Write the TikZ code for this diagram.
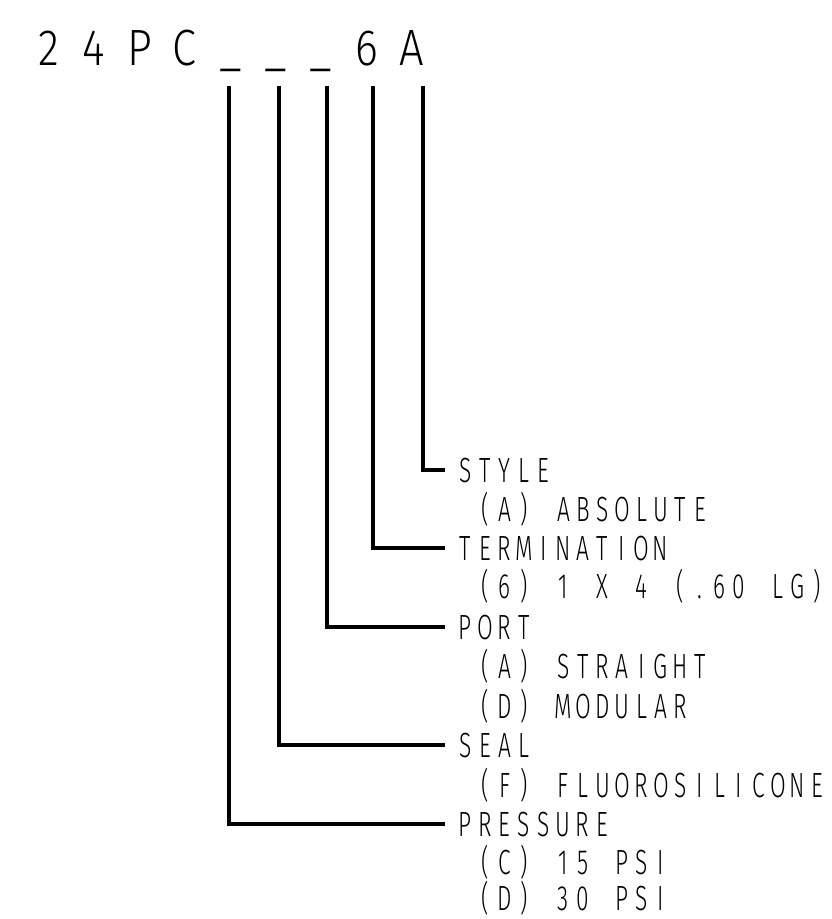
\documentclass[tikz,border=0pt]{standalone}
\usepackage{fontspec}
\IfFontExistsTF{Fira Sans Light}{%
  \newfontfamily\cadfont[FakeStretch=0.65]{Fira Sans Light}%
  \newfontfamily\cadtitle[FakeStretch=0.85]{Fira Sans Light}%
}{%
  \newfontfamily\cadfont[FakeStretch=0.65]{Fira Sans}%
  \newfontfamily\cadtitle[FakeStretch=0.85]{Fira Sans}%
}
% set a text in fixed-width cells, like a CAD stroke font (~ is a blank cell)
\def\endcells{endcells-marker}
\newcommand\cellrow[2]{\def\cellw{#1}\cellloop#2\endcells}
\def\cellloop#1{\ifx#1\endcells\else\makebox[\cellw][c]{#1}\expandafter\cellloop\fi}
\begin{document}
\begin{tikzpicture}[x=1pt,y=-1pt]
\tikzset{
  lead/.style={line width=4pt},
  txt/.style={anchor=base west, inner sep=0pt, font=\cadfont\fontsize{35}{35}\selectfont},
  ttl/.style={anchor=base west, inner sep=0pt, font=\cadtitle\fontsize{51}{51}\selectfont}
}
\useasboundingbox (0,0) rectangle (831,919);
\node[ttl] (title) at (25.8,65) {\cellrow{45.4pt}{24PC\_\_\_6A}};
% drop points below the title
\coordinate (d1) at (229,86);
\coordinate (d2) at (279,86);
\coordinate (d3) at (327,86);
\coordinate (d4) at (373,86);
\coordinate (d5) at (423,86);
% headings and options
\node[txt] (style) at (455.5,482) {\cellrow{19.5pt}{STYLE}};
\node[txt] (styA)  at (475.5,521) {\cellrow{19.5pt}{(A)~ABSOLUTE}};
\node[txt] (term)  at (455.5,560) {\cellrow{19.5pt}{TERMINATION}};
\node[txt] (term6) at (475.5,598) {\cellrow{19.5pt}{(6)~1~X~4~(.60~LG)}};
\node[txt] (port)  at (455.5,639) {\cellrow{19.5pt}{PORT}};
\node[txt] (portA) at (475.5,678) {\cellrow{19.5pt}{(A)~STRAIGHT}};
\node[txt] (portD) at (475.5,718) {\cellrow{19.5pt}{(D)~MODULAR}};
\node[txt] (seal)  at (455.5,757) {\cellrow{19.5pt}{SEAL}};
\node[txt] (sealF) at (475.5,797) {\cellrow{19.5pt}{(F)~FLUOROSILICONE}};
\node[txt] (pres)  at (455.5,836) {\cellrow{19.5pt}{PRESSURE}};
\node[txt] (presC) at (475.5,874) {\cellrow{19.5pt}{(C)~15~PSI}};
\node[txt] (presD) at (475.5,910) {\cellrow{19.5pt}{(D)~30~PSI}};
% leaders
\draw[lead, shorten >=10.5pt] (d5) |- (style.west);
\draw[lead, shorten >=10.5pt] (d4) |- (term.west);
\draw[lead, shorten >=10.5pt] (d3) |- (port.west);
\draw[lead, shorten >=10.5pt] (d2) |- (seal.west);
\draw[lead, shorten >=10.5pt] (d1) |- (pres.west);
\end{tikzpicture}
\end{document}
